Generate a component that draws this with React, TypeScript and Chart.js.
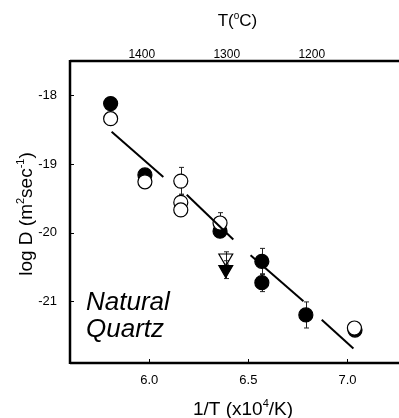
import React, { useEffect, useRef } from "react";
import { Chart, registerables } from "chart.js";
Chart.register(...registerables);

const FONT = "'Liberation Sans', Arial, sans-serif";

// axis ticks
const xTickValues = [6.0, 6.5, 7.0];
const yTickValues = [-18, -19, -20, -21];
const topTickValues = [5.962, 6.391, 6.82];
const topTickLabels = ["1400", "1300", "1200"];

// open circles
const openX = [5.805, 5.978, 6.159, 6.159, 6.159, 6.357, 7.035];
const openY = [-18.34, -19.26, -19.25, -19.56, -19.67, -19.86, -21.39];
const openErr = [0, 0, 0.2, 0.12, 0, 0.15, 0];

// filled circles
const filledX = [5.805, 5.978, 6.357, 6.568, 6.568, 6.79, 7.038];
const filledY = [-18.12, -19.16, -19.98, -20.42, -20.73, -21.2, -21.42];
const filledErr = [0.08, 0, 0, 0.19, 0.13, 0.19, 0];

// triangles (down)
const triOpenX = [6.386];
const triOpenY = [-20.37];
const triOpenErr = [0.09];
const triFilledX = [6.386];
const triFilledY = [-20.54];
const triFilledErr = [0.13];

// fit line segments
const fitStartX = [5.81, 6.189, 6.511, 6.87];
const fitStartY = [-18.53, -19.45, -20.33, -21.27];
const fitEndX = [6.071, 6.424, 6.778, 7.03];
const fitEndY = [-19.19, -20.1, -21.0, -21.69];

type Part = { t: string; sup?: boolean };

function drawRich(ctx: CanvasRenderingContext2D, parts: Part[], cx: number, cy: number, size: number) {
  const supSize = Math.round(size * 0.6);
  let total = 0;
  const widths: number[] = [];
  for (const p of parts) {
    ctx.font = `${p.sup ? supSize : size}px ${FONT}`;
    const w = ctx.measureText(p.t).width;
    widths.push(w);
    total += w;
  }
  let x = cx - total / 2;
  ctx.textAlign = "left";
  ctx.textBaseline = "alphabetic";
  const baseline = cy + size * 0.36;
  parts.forEach((p, i) => {
    ctx.font = `${p.sup ? supSize : size}px ${FONT}`;
    ctx.fillText(p.t, x, p.sup ? baseline - size * 0.42 : baseline);
    x += widths[i];
  });
}

const decorPlugin = {
  id: "decor",
  beforeDatasetsDraw(chart: any) {
    const ctx = chart.ctx as CanvasRenderingContext2D;
    const xs = chart.scales.x;
    const ys = chart.scales.y;
    ctx.save();
    ctx.strokeStyle = "#222";
    ctx.lineWidth = 1;
    chart.data.datasets.forEach((ds: any) => {
      if (!ds.errs) return;
      ds.data.forEach((pt: any, j: number) => {
        const e = ds.errs[j];
        if (!e) return;
        const px = Math.round(xs.getPixelForValue(pt.x)) + 0.5;
        const y1 = ys.getPixelForValue(pt.y + e);
        const y2 = ys.getPixelForValue(pt.y - e);
        ctx.beginPath();
        ctx.moveTo(px, y1);
        ctx.lineTo(px, y2);
        ctx.moveTo(px - 2.5, y1);
        ctx.lineTo(px + 2.5, y1);
        ctx.moveTo(px - 2.5, y2);
        ctx.lineTo(px + 2.5, y2);
        ctx.stroke();
      });
    });
    ctx.restore();
  },
  afterDraw(chart: any) {
    const ctx = chart.ctx as CanvasRenderingContext2D;
    const a = chart.chartArea;
    const xs = chart.scales.x;
    const ys = chart.scales.y;
    ctx.save();
    ctx.strokeStyle = "#000";
    ctx.lineWidth = 2.5;
    ctx.beginPath();
    ctx.moveTo(a.left, a.top);
    ctx.lineTo(a.right + 2, a.top);
    ctx.moveTo(a.left, a.top - 1);
    ctx.lineTo(a.left, a.bottom + 1);
    ctx.moveTo(a.left, a.bottom);
    ctx.lineTo(a.right + 2, a.bottom);
    ctx.stroke();
    ctx.lineWidth = 1;
    ctx.beginPath();
    xTickValues.forEach((v) => {
      const px = Math.round(xs.getPixelForValue(v)) + 0.5;
      ctx.moveTo(px, a.bottom);
      ctx.lineTo(px, a.bottom - 4);
    });
    yTickValues.forEach((v) => {
      const py = Math.round(ys.getPixelForValue(v)) + 0.5;
      ctx.moveTo(a.left, py);
      ctx.lineTo(a.left + 4, py);
    });
    ctx.stroke();

    ctx.fillStyle = "#000";
    // top title
    drawRich(ctx, [{ t: "T(" }, { t: "o", sup: true }, { t: "C)" }], 237.5, 20, 17);
    // bottom title
    drawRich(ctx, [{ t: "1/T (x10" }, { t: "4", sup: true }, { t: "/K)" }], 243, 408, 19);
    // y title
    ctx.save();
    ctx.translate(25, 214);
    ctx.rotate(-Math.PI / 2);
    drawRich(ctx, [{ t: "log D (m" }, { t: "2", sup: true }, { t: "sec" }, { t: "-1", sup: true }, { t: ")" }], 0, 0, 19);
    ctx.restore();
    // label
    ctx.font = `italic 26px ${FONT}`;
    ctx.textAlign = "left";
    ctx.textBaseline = "alphabetic";
    ctx.fillText("Natural", 86, 310);
    ctx.fillText("Quartz", 86, 337);
    ctx.restore();
  },
};

const zeroPad = (s: any) => {
  s.paddingLeft = 0;
  s.paddingRight = 0;
  s.paddingTop = 0;
  s.paddingBottom = 0;
};

export default function App() {
  const ref = useRef<HTMLCanvasElement | null>(null);
  useEffect(() => {
    if (!ref.current) return;
    const pts = (xs: number[], ys: number[]) => xs.map((x, i) => ({ x, y: ys[i] }));
    const fitSets = fitStartX.map((sx, i) => ({
      type: "line",
      data: [
        { x: sx, y: fitStartY[i] },
        { x: fitEndX[i], y: fitEndY[i] },
      ],
      showLine: true,
      borderColor: "#000",
      borderWidth: 2,
      pointRadius: 0,
      order: 0,
    }));
    const chart = new Chart(ref.current, {
      type: "scatter",
      data: {
        datasets: [
          ...(fitSets as any[]),
          {
            data: pts(openX, openY),
            errs: openErr,
            pointStyle: "circle",
            pointRadius: 7,
            backgroundColor: "#fff",
            borderColor: "#000",
            borderWidth: 1.2,
            order: 1,
          },
          {
            data: pts(triOpenX, triOpenY),
            errs: triOpenErr,
            pointStyle: "triangle",
            rotation: 180,
            pointRadius: 8,
            backgroundColor: "rgba(0,0,0,0)",
            borderColor: "#000",
            borderWidth: 1.2,
            order: 1,
          },
          {
            data: pts(filledX, filledY),
            errs: filledErr,
            pointStyle: "circle",
            pointRadius: 7,
            backgroundColor: "#000",
            borderColor: "#000",
            borderWidth: 1.2,
            order: 2,
          },
          {
            data: pts(triFilledX, triFilledY),
            errs: triFilledErr,
            pointStyle: "triangle",
            rotation: 180,
            pointRadius: 8,
            backgroundColor: "#000",
            borderColor: "#000",
            borderWidth: 1.2,
            order: 2,
          },
        ] as any,
      },
      options: {
        animation: false,
        responsive: false,
        devicePixelRatio: 1,
        layout: { padding: 0, autoPadding: false },
        plugins: { legend: { display: false }, tooltip: { enabled: false } },
        scales: {
          x: {
            type: "linear",
            position: "bottom",
            min: 5.6,
            max: 7.26,
            afterBuildTicks: (s: any) => {
              s.ticks = xTickValues.map((v) => ({ value: v }));
            },
            afterFit: (s: any) => {
              s.height = 55;
              zeroPad(s);
            },
            grid: { display: false, drawTicks: false },
            border: { display: false },
            ticks: {
              autoSkip: false,
              maxRotation: 0,
              padding: 10,
              color: "#000",
              font: { family: FONT, size: 13 },
              callback: (v: any) => Number(v).toFixed(1),
            },
          },
          x2: {
            type: "linear",
            position: "top",
            min: 5.6,
            max: 7.26,
            afterBuildTicks: (s: any) => {
              s.ticks = topTickValues.map((v) => ({ value: v }));
            },
            afterFit: (s: any) => {
              s.height = 61;
              zeroPad(s);
            },
            grid: { display: false, drawTicks: false },
            border: { display: false },
            ticks: {
              autoSkip: false,
              maxRotation: 0,
              padding: -1,
              color: "#000",
              font: { family: FONT, size: 12 },
              callback: (_v: any, i: number) => topTickLabels[i],
            },
          },
          y: {
            type: "linear",
            min: -21.9,
            max: -17.5,
            afterBuildTicks: (s: any) => {
              s.ticks = yTickValues.map((v) => ({ value: v }));
            },
            afterFit: (s: any) => {
              s.width = 70;
              zeroPad(s);
            },
            grid: { display: false, drawTicks: false },
            border: { display: false },
            ticks: {
              autoSkip: false,
              padding: 13,
              color: "#000",
              font: { family: FONT, size: 13 },
              callback: (v: any) => String(v),
            },
          },
        },
      } as any,
      plugins: [decorPlugin],
    });
    return () => chart.destroy();
  }, []);
  return (
    <div style={{ position: "fixed", left: 0, top: 0, width: 399, height: 418, background: "#fff" }}>
      <canvas ref={ref} width={399} height={418} style={{ display: "block", width: 399, height: 418 }} />
    </div>
  );
}
